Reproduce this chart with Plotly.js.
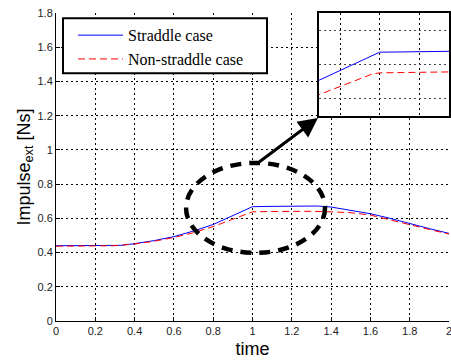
<!DOCTYPE html>
<html>
<head>
<meta charset="utf-8">
<script src="https://cdn.plot.ly/plotly-3.0.1.min.js"></script>
<style>html,body{margin:0;padding:0;background:#fff;}#chart{width:451px;height:361px;}</style>
</head>
<body>
<div id="chart"></div>
<script>
// ---- data ----
const timeStraddle = [0, 0.1, 0.2, 0.33, 0.4, 0.5, 0.6, 0.7, 0.8, 0.9, 1.0, 1.1, 1.2, 1.33, 1.4, 1.5, 1.6, 1.7, 1.8, 1.9, 2.0];
const impulseStraddle = [0.44, 0.44, 0.44, 0.442, 0.452, 0.47, 0.493, 0.526, 0.564, 0.615, 0.668, 0.670, 0.671, 0.672, 0.666, 0.648, 0.627, 0.600, 0.569, 0.540, 0.512];
const timeNonStraddle = [0, 0.1, 0.2, 0.3, 0.4, 0.5, 0.6, 0.7, 0.8, 0.9, 0.99, 1.0, 1.1, 1.2, 1.3, 1.4, 1.5, 1.6, 1.7, 1.8, 1.9, 2.0];
const impulseNonStraddle = [0.437, 0.437, 0.438, 0.44, 0.45, 0.466, 0.488, 0.516, 0.552, 0.596, 0.636, 0.638, 0.640, 0.641, 0.641, 0.638, 0.633, 0.619, 0.593, 0.563, 0.535, 0.508];
const seriesNames = ['Straddle case', 'Non-straddle case'];
const xTickVals = [0, 0.2, 0.4, 0.6, 0.8, 1.0, 1.2, 1.4, 1.6, 1.8, 2.0];
const xTickText = ['0', '0.2', '0.4', '0.6', '0.8', '1', '1.2', '1.4', '1.6', '1.8', '2'];
const yTickVals = [0, 0.2, 0.4, 0.6, 0.8, 1.0, 1.2, 1.4, 1.6, 1.8];
const yTickText = ['0', '0.2', '0.4', '0.6', '0.8', '1', '1.2', '1.4', '1.6', '1.8'];
const insetXGrid = [0.95, 1.0, 1.05];
const insetYGrid = [0.6, 0.65, 0.7];

// ---- styles ----
const blueLine = {color: '#0000ff', width: 1};
const redLine = {color: '#ff0000', width: 1, dash: '7px,4px'};
const tickFont = {family: 'Liberation Sans, Arial, sans-serif', size: 11, color: '#222'};
const titleFont = {family: 'Liberation Sans, Arial, sans-serif', size: 18, color: '#000'};
const gridDash = '2px,3px';

const traces = [
  {x: timeStraddle, y: impulseStraddle, type: 'scatter', mode: 'lines', name: seriesNames[0], line: blueLine, xaxis: 'x', yaxis: 'y'},
  {x: timeNonStraddle, y: impulseNonStraddle, type: 'scatter', mode: 'lines', name: seriesNames[1], line: redLine, xaxis: 'x', yaxis: 'y'},
  {x: timeStraddle, y: impulseStraddle, type: 'scatter', mode: 'lines', showlegend: false, line: blueLine, xaxis: 'x2', yaxis: 'y2'},
  {x: timeNonStraddle, y: impulseNonStraddle, type: 'scatter', mode: 'lines', showlegend: false, line: redLine, xaxis: 'x2', yaxis: 'y2'}
];

const layout = {
  width: 451, height: 361,
  margin: {l: 56, r: 2, t: 13, b: 40, pad: 0},
  paper_bgcolor: '#fff', plot_bgcolor: '#fff',
  showlegend: true,
  xaxis: {
    domain: [0, 1], range: [0, 2], tickvals: xTickVals, ticktext: xTickText,
    showline: true, linecolor: '#000', linewidth: 1, mirror: false,
    ticks: 'inside', ticklen: 4, tickcolor: '#000', ticklabeloverflow: 'allow',
    showgrid: true, gridcolor: '#000', gridwidth: 1, griddash: gridDash,
    zeroline: false, tickfont: tickFont,
    title: {text: 'time', font: titleFont, standoff: 6}
  },
  yaxis: {
    domain: [0, 1], range: [0, 1.8], tickvals: yTickVals, ticktext: yTickText,
    showline: true, linecolor: '#000', linewidth: 1, mirror: false,
    ticks: 'inside', ticklen: 4, tickcolor: '#000',
    showgrid: true, gridcolor: '#000', gridwidth: 1, griddash: gridDash,
    zeroline: false, tickfont: tickFont,
    title: {text: 'Impulse<sub>ext</sub> [Ns]', font: titleFont, standoff: 2}
  },
  xaxis2: {
    domain: [0.669, 1], anchor: 'y2', range: [0.923, 1.088], tickvals: insetXGrid,
    showticklabels: false, ticks: '',
    showline: true, mirror: true, linecolor: '#000', linewidth: 2,
    showgrid: true, gridcolor: '#000', gridwidth: 1, griddash: gridDash, zeroline: false
  },
  yaxis2: {
    domain: [0.665, 1], anchor: 'x2', range: [0.575, 0.725], tickvals: insetYGrid,
    showticklabels: false, ticks: '',
    showline: true, mirror: true, linecolor: '#000', linewidth: 2,
    showgrid: true, gridcolor: '#444', gridwidth: 1, griddash: gridDash, zeroline: false
  },
  legend: {
    x: 0.0433, y: 0.983, xanchor: 'left', yanchor: 'top',
    bgcolor: 'rgba(0,0,0,0)', borderwidth: 0,
    font: {family: 'Liberation Serif, Times New Roman, serif', size: 16, color: '#000'},
    itemwidth: 45
  },
  shapes: [
    {type: 'rect', xref: 'paper', yref: 'paper', x0: 0.0178, x1: 0.5369, y0: 0.8044, y1: 0.9828,
     line: {color: '#000', width: 2}, fillcolor: '#fff', layer: 'above'},
    {type: 'circle', xref: 'x', yref: 'y', x0: 0.662, x1: 1.369, y0: 0.398, y1: 0.924,
     line: {color: '#000', width: 4.5, dash: '11px,8px'}, layer: 'above'}
  ],
  annotations: [
    {xref: 'x', yref: 'y', axref: 'x', ayref: 'y', x: 1.333, y: 1.187, ax: 1.028, ay: 0.924,
     text: '', showarrow: true, arrowhead: 2, arrowsize: 1.3, arrowwidth: 3, arrowcolor: '#000'}
  ]
};

Plotly.newPlot('chart', traces, layout, {staticPlot: true, displayModeBar: false});
</script>
</body>
</html>
